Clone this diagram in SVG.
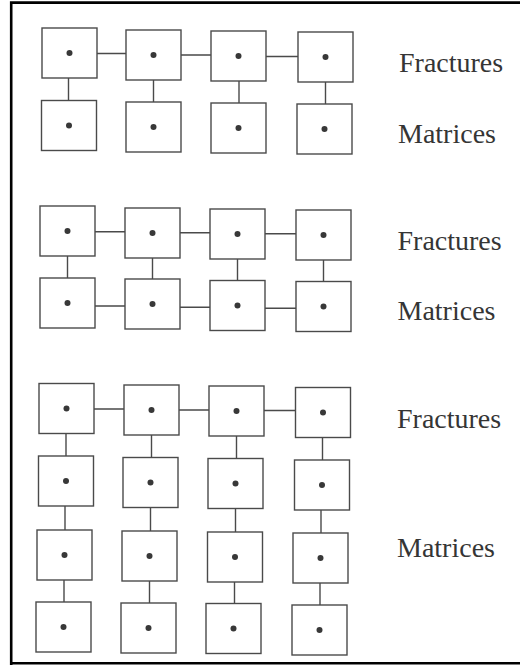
<svg xmlns="http://www.w3.org/2000/svg" width="520" height="665" viewBox="0 0 520 665">
<style>
.b{fill:#fff;stroke:#4a4a4a;stroke-width:1.4}
.d{fill:#383838}
.c{stroke:#4a4a4a;stroke-width:1.4;fill:none}
.t{font-family:"Liberation Serif","Times New Roman",serif;font-size:28px;fill:#353535}
</style>
<defs>
<g id="cell"><rect class="b" x="0" y="0" width="55" height="50"/><circle class="d" cx="27.5" cy="25" r="3"/></g>
</defs>
<rect x="0" y="0" width="520" height="665" fill="#fff"/>
<path d="M11.2 665 V2.6 H520 M11.2 663.2 H520" stroke="#000" stroke-width="2.6" fill="none"/>
<g id="connectors">
<path class="c" d="M97 53.5H126 M181 55H211 M266 56.5H298 M68.5 78V100.5 M153.5 80V102 M239 81V103 M325.5 82V104"/>
<path class="c" d="M95 231.7H125 M180 232.7H210 M265 233.7H296 M95 306H125 M180 307.3H210 M265 308.3H296 M67.5 256V278 M152.5 258V279 M237.5 259V280.5 M323.5 260V281.5"/>
<path class="c" d="M94 409H124 M179 410H209 M264 410.5H295.5 M66 433.5V456 M65 506V530 M64 580V602 M151.5 435V457.5 M150.5 507.5V531 M149.5 581V603 M236.5 436V458.5 M235.5 508.5V532 M234.5 582V603.5 M322.5 437.5V460 M321 510V533 M320 583V605"/>
</g>
<g id="s1f1"><use href="#cell" x="42" y="28"/></g>
<g id="s1f2"><use href="#cell" x="126" y="30"/></g>
<g id="s1f3"><use href="#cell" x="211" y="31"/></g>
<g id="s1f4"><use href="#cell" x="298" y="32"/></g>
<g id="s1m1"><use href="#cell" x="41.5" y="100.5"/></g>
<g id="s1m2"><use href="#cell" x="126" y="102"/></g>
<g id="s1m3"><use href="#cell" x="211" y="103"/></g>
<g id="s1m4"><use href="#cell" x="297" y="104"/></g>
<g id="s2f1"><use href="#cell" x="40" y="206"/></g>
<g id="s2f2"><use href="#cell" x="125" y="208"/></g>
<g id="s2f3"><use href="#cell" x="210" y="209"/></g>
<g id="s2f4"><use href="#cell" x="296" y="210"/></g>
<g id="s2m1"><use href="#cell" x="40" y="278"/></g>
<g id="s2m2"><use href="#cell" x="125" y="279"/></g>
<g id="s2m3"><use href="#cell" x="210" y="280.5"/></g>
<g id="s2m4"><use href="#cell" x="296" y="281.5"/></g>
<g id="s3r1c1"><use href="#cell" x="39" y="383.5"/></g>
<g id="s3r1c2"><use href="#cell" x="124" y="385"/></g>
<g id="s3r1c3"><use href="#cell" x="209" y="386"/></g>
<g id="s3r1c4"><use href="#cell" x="295.5" y="387.5"/></g>
<g id="s3r2c1"><use href="#cell" x="38.5" y="456"/></g>
<g id="s3r2c2"><use href="#cell" x="123" y="457.5"/></g>
<g id="s3r2c3"><use href="#cell" x="208" y="458.5"/></g>
<g id="s3r2c4"><use href="#cell" x="294.5" y="460"/></g>
<g id="s3r3c1"><use href="#cell" x="37" y="530"/></g>
<g id="s3r3c2"><use href="#cell" x="122" y="531"/></g>
<g id="s3r3c3"><use href="#cell" x="207.5" y="532"/></g>
<g id="s3r3c4"><use href="#cell" x="293" y="533"/></g>
<g id="s3r4c1"><use href="#cell" x="36" y="602"/></g>
<g id="s3r4c2"><use href="#cell" x="121" y="603"/></g>
<g id="s3r4c3"><use href="#cell" x="206" y="603.5"/></g>
<g id="s3r4c4"><use href="#cell" x="292" y="605"/></g>
<g id="labels">
<text class="t" x="399" y="72">Fractures</text>
<text class="t" x="398" y="143">Matrices</text>
<text class="t" x="397.5" y="249.5">Fractures</text>
<text class="t" x="397.5" y="320">Matrices</text>
<text class="t" x="397" y="427.5">Fractures</text>
<text class="t" x="397" y="557">Matrices</text>
</g>
</svg>
